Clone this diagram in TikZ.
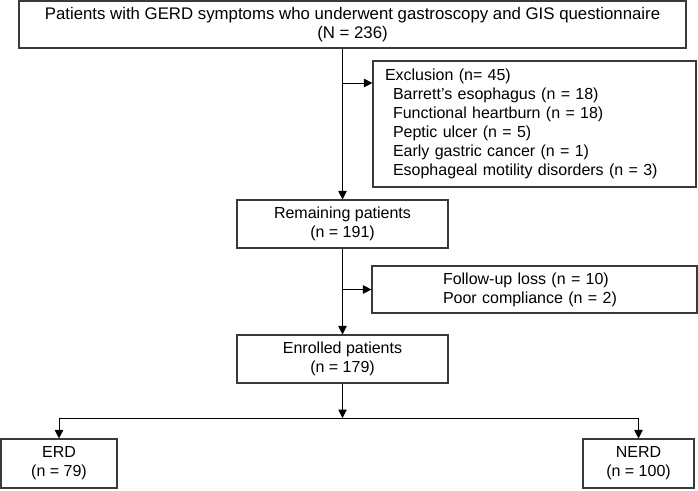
\documentclass[tikz,border=0pt]{standalone}
\usepackage{fontspec}
\setmainfont{Liberation Sans}
\usetikzlibrary{arrows.meta}
\definecolor{boxline}{HTML}{3A3A3A}
\tikzset{
  box/.style={draw=boxline, line width=1.1pt, rectangle, inner sep=0pt, align=center,
    font=\fontsize{16}{19}\selectfont, text=black},
  arr/.style={draw=black, line width=1pt, -{Triangle[length=8.5pt,width=8.5pt]}}
}
\begin{document}
\begin{tikzpicture}[x=1pt,y=-1pt]
\useasboundingbox (0,0) rectangle (698,490);
\node[box, minimum width=667pt, minimum height=47pt, font=\fontsize{16.8}{18.5}\selectfont] (top) at (352.5,24.5)
  {Patients with GERD symptoms who underwent gastroscopy and GIS questionnaire\\(N = 236)};
\node[box, minimum width=323pt, minimum height=126pt, text width=299pt, inner xsep=12pt, align=left] (excl) at (534.5,124)
  {Exclusion (n= 45)\\
   \hspace*{8pt}Barrett's esophagus (n = 18)\\
   \hspace*{8pt}Functional heartburn (n = 18)\\
   \hspace*{8pt}Peptic ulcer (n = 5)\\
   \hspace*{8pt}Early gastric cancer (n = 1)\\
   \hspace*{8pt}Esophageal motility disorders (n = 3)};
\node[box, minimum width=211pt, minimum height=48pt] (rem) at (342.5,224)
  {Remaining patients\\(n = 191)};
\node[box, minimum width=325pt, minimum height=47pt, text width=183pt, inner xsep=71pt, align=left] (fol) at (534.5,289.5)
  {Follow-up loss (n = 10)\\Poor compliance (n = 2)};
\node[box, minimum width=211pt, minimum height=48pt] (enr) at (342.5,359)
  {Enrolled patients\\(n = 179)};
\node[box, minimum width=116pt, minimum height=49pt] (erd) at (59,463.5)
  {ERD\\(n = 79)};
\node[box, minimum width=111pt, minimum height=49pt] (nerd) at (638.5,463.5)
  {NERD\\(n = 100)};
\coordinate (b1) at (342.5,83);
\coordinate (b2) at (342.5,289.5);
\coordinate (split) at (342.5,418);
\draw[arr] (top.south -| rem.north) -- (rem.north);
\draw[arr] (b1) -- (b1 -| excl.west);
\draw[arr] (rem.south) -- (enr.north);
\draw[arr] (b2) -- (b2 -| fol.west);
\draw[arr] (enr.south) -- (split);
\draw[arr] (split) -| (erd.north);
\draw[arr] (split) -| (nerd.north);
\end{tikzpicture}
\end{document}
